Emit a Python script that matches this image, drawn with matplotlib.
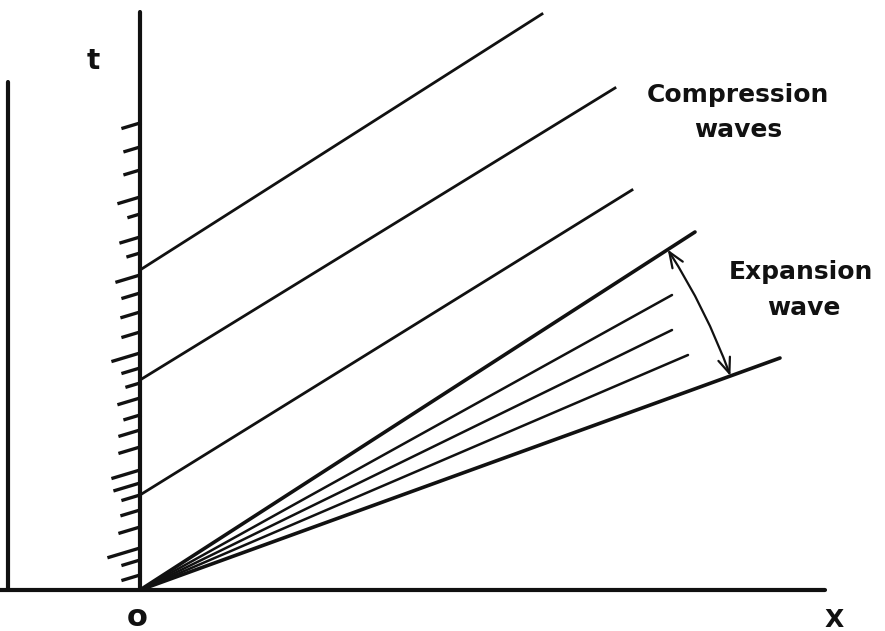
import numpy as np
import matplotlib.pyplot as plt
from matplotlib.patches import FancyArrowPatch

# x-t diagram: piston wall at x=0, compression waves and a centered expansion fan

# hatching on the piston face: height where each hatch meets the wall, and its length
hatch_t = [467, 443, 420, 393, 376, 353, 337, 315, 297, 278, 258, 237, 222,
           207, 192, 175, 160, 143, 120, 107, 95, 80, 63, 42, 30, 15]
hatch_len = [17, 15, 15, 21, 11, 19, 12, 23, 17, 18, 17, 27, 17,
             13, 21, 15, 20, 20, 27, 25, 17, 18, 20, 31, 17, 17]

# compression waves leaving the wall
comp_t0 = [320, 210, 95]
comp_x1 = [402, 475, 492]
comp_t1 = [576, 502, 400]

# expansion fan rays from the origin (first and last are the fan edges)
fan_x = [555, 532, 532, 548, 640]
fan_t = [358, 295, 260, 235, 232]
fan_lw = [2.6, 1.8, 1.8, 1.8, 2.6]

fig = plt.figure(figsize=(8.85, 6.31), dpi=100)
ax = fig.add_axes([0, 0, 1, 1])
ax.set_xlim(-140, 745)
ax.set_ylim(-41, 590)
ax.set_aspect('equal')
ax.axis('off')

ink = '#111111'

# axes and wall
ax.plot([-140, 685], [0, 0], color=ink, lw=3, solid_capstyle='round')
ax.plot([-132, -132], [0, 508], color=ink, lw=3, solid_capstyle='round')
ax.plot([0, 0], [0, 578], color=ink, lw=3, solid_capstyle='round')

for t, L in zip(hatch_t, hatch_len):
    ax.plot([-L, 0], [t - 0.3 * L, t], color=ink, lw=2.4)

for t0, x1, t1 in zip(comp_t0, comp_x1, comp_t1):
    ax.plot([0, x1], [t0, t1], color=ink, lw=2)

for x1, t1, lw in zip(fan_x, fan_t, fan_lw):
    ax.plot([0, x1], [0, t1], color=ink, lw=lw, solid_capstyle='round')

# arc spanning the fan, centred on the origin
R = 628
a0 = np.arctan2(fan_t[0], fan_x[0])
a1 = np.arctan2(fan_t[-1], fan_x[-1])
pA = (R * np.cos(a0), R * np.sin(a0))
pB = (R * np.cos(a1), R * np.sin(a1))
arc = FancyArrowPatch(pA, pB, connectionstyle='arc3,rad=-0.056',
                      arrowstyle='<->,head_length=0.55,head_width=0.22',
                      mutation_scale=20, color=ink, lw=1.6,
                      shrinkA=0, shrinkB=0)
ax.add_patch(arc)

font = dict(family='DejaVu Sans', weight='bold', color=ink)
ax.text(-47, 529, 't', fontsize=20, ha='center', va='center', **font)
ax.text(-3, -28, 'o', fontsize=22, ha='center', va='center', **font)
ax.text(694, -30, 'X', fontsize=18, ha='center', va='center', **font)
ax.text(598, 495, 'Compression', fontsize=18, ha='center', va='center', **font)
ax.text(598, 460, 'waves', fontsize=18, ha='center', va='center', **font)
ax.text(661, 318, 'Expansion', fontsize=18, ha='center', va='center', **font)
ax.text(664, 282, 'wave', fontsize=18, ha='center', va='center', **font)

fig.savefig('out.png', dpi=100, facecolor='white')
